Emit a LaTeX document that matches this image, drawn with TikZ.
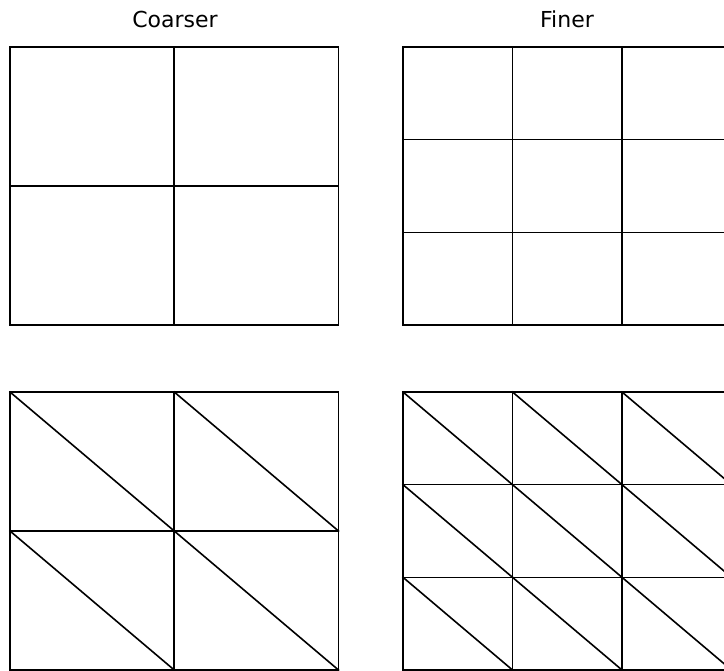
\documentclass[tikz,border=0pt]{standalone}
\usepackage{fontspec}
\setmainfont{DejaVu Sans}
\usepackage{tikz}
\usetikzlibrary{positioning,calc}

\tikzset{
  gridline/.style={line width=1.6pt, line cap=rect},
  title/.style={font=\fontsize{22}{26}\selectfont, anchor=center}
}

\begin{document}
\begin{tikzpicture}[x=1pt, y=-1pt]
  \def\mw{328.5}
  \def\mh{278}
  \useasboundingbox (0,0) rectangle (724,671);
  \clip (0,0) rectangle (724,671);

  % titles
  \node[title] (coarse) at (175,19) {Coarser};
  \node[title] (fine) at (567,19) {Finer};

  % coarse mesh: 2x2 quads, then triangles
  \foreach \yy/\tri in {47/0, 392/1} {
    \draw[gridline] (10,\yy) rectangle ++(\mw,\mh);
    \foreach \i in {1} {
      \draw[gridline] ($(10,\yy)+(\i*\mw/2,0)$) -- ++(0,\mh);
      \draw[gridline] ($(10,\yy)+(0,\i*\mh/2)$) -- ++(\mw,0);
    }
    \ifnum\tri=1
      \foreach \i in {0,1} \foreach \j in {0,1}
        \draw[gridline] ($(10,\yy)+(\i*\mw/2,\j*\mh/2)$) -- ++(\mw/2,\mh/2);
    \fi
  }

  % finer mesh: 3x3 quads, then triangles
  \foreach \yy/\tri in {47/0, 392/1} {
    \draw[gridline] (403,\yy) rectangle ++(\mw,\mh);
    \foreach \i in {1,2} {
      \draw[gridline] ($(403,\yy)+(\i*\mw/3,0)$) -- ++(0,\mh);
      \draw[gridline] ($(403,\yy)+(0,\i*\mh/3)$) -- ++(\mw,0);
    }
    \ifnum\tri=1
      \foreach \i in {0,1,2} \foreach \j in {0,1,2}
        \draw[gridline] ($(403,\yy)+(\i*\mw/3,\j*\mh/3)$) -- ++(\mw/3,\mh/3);
    \fi
  }
\end{tikzpicture}
\end{document}
